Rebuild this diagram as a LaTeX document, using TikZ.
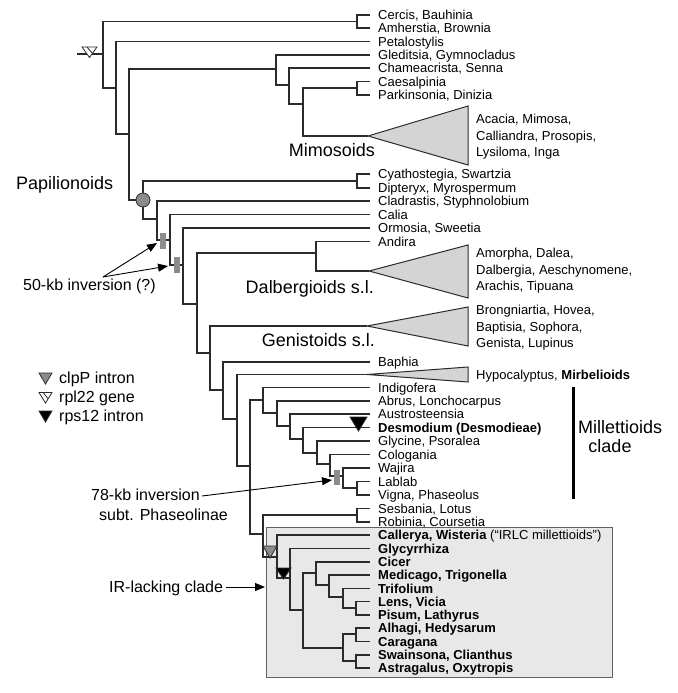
\documentclass[tikz,border=0pt]{standalone}
\usepackage{fontspec}
\setmainfont{Liberation Sans}
\usetikzlibrary{arrows.meta}
\definecolor{ln}{HTML}{2B2B2B}
\definecolor{trif}{HTML}{D4D4D4}
\definecolor{boxf}{HTML}{E8E8E8}
\definecolor{barc}{HTML}{8C8C8C}
\begin{document}
\begin{tikzpicture}[x=1pt,y=-1pt,
  tree/.style={draw=ln, line width=1.1pt},
  leaf/.style={anchor=west, inner xsep=8pt, inner ysep=0pt, text height=9.3pt, text depth=0pt, font=\fontsize{13}{16}\selectfont},
  cladetxt/.style={anchor=west, inner sep=0pt, align=left, font=\fontsize{13}{16.5}\selectfont},
  grp/.style={inner sep=0pt, text height=13pt, text depth=0pt, font=\fontsize{18}{21}\selectfont},
  ann/.style={inner sep=0pt, text height=11.5pt, text depth=0pt, font=\fontsize{16}{20}\selectfont},
  clade/.style={draw=ln, fill=trif, line width=1pt},
  bar/.style={fill=barc, draw=none, minimum width=6pt, minimum height=16pt, inner sep=0pt},
  arr/.style={draw=black, line width=0.9pt, -{Triangle[length=10pt,width=8pt]}},
  mk/.style={draw=ln, line width=0.8pt}
]
\useasboundingbox (0,0) rectangle (677,693);
\fill[white] (0,0) rectangle (677,693);

% IR-lacking clade box
\draw[draw=gray!75!black, fill=boxf, line width=0.8pt] (266,527) rectangle (612,677);

% internal nodes
\coordinate (rs) at (77,54);
\coordinate (r0) at (103,54);
\coordinate (cb) at (357,21.5);
\coordinate (n116) at (116,88);
\coordinate (n129) at (129,134);
\coordinate (n276) at (276,69);
\coordinate (n289) at (289,85);
\coordinate (n303) at (303,104);
\coordinate (cp) at (357,88);
\coordinate (mimA) at (368,136);
\coordinate (pap) at (143,200);
\coordinate (cd) at (357,181);
\coordinate (n157) at (157,219);
\coordinate (n170) at (170,240);
\coordinate (n183) at (183,265);
\coordinate (n197) at (197,304);
\coordinate (dal) at (316,253);
\coordinate (dalA) at (369,271);
\coordinate (n210) at (210,353);
\coordinate (genA) at (367,326);
\coordinate (n223) at (223,390);
\coordinate (n237) at (237,419);
\coordinate (mirA) at (367,374.5);
\coordinate (n250) at (250,466);
\coordinate (m263) at (263,400);
\coordinate (m277) at (277,413);
\coordinate (m290) at (290,426);
\coordinate (m303) at (303,439);
\coordinate (m317) at (317,453);
\coordinate (m330) at (330,464);
\coordinate (m343) at (343,476);
\coordinate (m357) at (357,488);
\coordinate (s263) at (263,534);
\coordinate (sr) at (357,515);
\coordinate (i277) at (277,557);
\coordinate (i290) at (290,578);
\coordinate (i303) at (303,610);
\coordinate (i316) at (316,573);
\coordinate (i329) at (329,585);
\coordinate (i343) at (343,597);
\coordinate (i356) at (356,608);
\coordinate (i343b) at (343,648);
\coordinate (ah) at (356,634);
\coordinate (sa) at (356,661);

% leaves
\node[leaf] (cercis) at (370,15) {Cercis, Bauhinia};
\node[leaf] (amher) at (370,28) {Amherstia, Brownia};
\node[leaf] (petalo) at (370,41.5) {Petalostylis};
\node[leaf] (gled) at (370,55) {Gleditsia, Gymnocladus};
\node[leaf] (chame) at (370,68) {Chameacrista, Senna};
\node[leaf] (caes) at (370,81.5) {Caesalpinia};
\node[leaf] (park) at (370,95) {Parkinsonia, Dinizia};
\node[leaf] (cyath) at (370,174) {Cyathostegia, Swartzia};
\node[leaf] (dipt) at (370,188) {Dipteryx, Myrospermum};
\node[leaf] (clad) at (370,201) {Cladrastis, Styphnolobium};
\node[leaf] (calia) at (370,214.5) {Calia};
\node[leaf] (ormo) at (370,228) {Ormosia, Sweetia};
\node[leaf] (andira) at (370,241.5) {Andira};
\node[leaf] (baphia) at (370,362) {Baphia};
\node[leaf] (indigo) at (370,387.5) {Indigofera};
\node[leaf] (abrus) at (370,401) {Abrus, Lonchocarpus};
\node[leaf] (austro) at (370,414) {Austrosteensia};
\node[leaf] (desmo) at (370,427.5) {\textbf{Desmodium (Desmodieae)}};
\node[leaf] (glycine) at (370,441) {Glycine, Psoralea};
\node[leaf] (colog) at (370,454.5) {Cologania};
\node[leaf] (wajira) at (370,468) {Wajira};
\node[leaf] (lablab) at (370,481.5) {Lablab};
\node[leaf] (vigna) at (370,495) {Vigna, Phaseolus};
\node[leaf] (sesb) at (370,508.5) {Sesbania, Lotus};
\node[leaf] (robin) at (370,522) {Robinia, Coursetia};
\node[leaf] (caller) at (370,535) {\textbf{Callerya, Wisteria} (“IRLC millettioids”)};
\node[leaf] (glycyr) at (370,548.5) {\textbf{Glycyrrhiza}};
\node[leaf] (cicer) at (370,562) {\textbf{Cicer}};
\node[leaf] (medic) at (370,575) {\textbf{Medicago, Trigonella}};
\node[leaf] (trif) at (370,588.5) {\textbf{Trifolium}};
\node[leaf] (lens) at (370,601.5) {\textbf{Lens, Vicia}};
\node[leaf] (pisum) at (370,615) {\textbf{Pisum, Lathyrus}};
\node[leaf] (alhagi) at (370,628) {\textbf{Alhagi, Hedysarum}};
\node[leaf] (carag) at (370,641.5) {\textbf{Caragana}};
\node[leaf] (swain) at (370,655) {\textbf{Swainsona, Clianthus}};
\node[leaf] (astra) at (370,668) {\textbf{Astragalus, Oxytropis}};

% branches
\draw[tree] (rs) -- (r0);
\draw[tree] (r0) |- (cb); \draw[tree] (r0) |- (n116);
\draw[tree] (cb) |- (cercis.west); \draw[tree] (cb) |- (amher.west);
\draw[tree] (n116) |- (petalo.west); \draw[tree] (n116) |- (n129);
\draw[tree] (n129) |- (n276); \draw[tree] (n129) |- (pap);
\draw[tree] (n276) |- (gled.west); \draw[tree] (n276) |- (n289);
\draw[tree] (n289) |- (chame.west); \draw[tree] (n289) |- (n303);
\draw[tree] (n303) |- (cp); \draw[tree] (n303) |- (mimA);
\draw[tree] (cp) |- (caes.west); \draw[tree] (cp) |- (park.west);
\draw[tree] (pap) |- (cd); \draw[tree] (pap) |- (n157);
\draw[tree] (cd) |- (cyath.west); \draw[tree] (cd) |- (dipt.west);
\draw[tree] (n157) |- (clad.west); \draw[tree] (n157) |- (n170);
\draw[tree] (n170) |- (calia.west); \draw[tree] (n170) |- (n183);
\draw[tree] (n183) |- (ormo.west); \draw[tree] (n183) |- (n197);
\draw[tree] (n197) |- (dal); \draw[tree] (n197) |- (n210);
\draw[tree] (dal) |- (andira.west); \draw[tree] (dal) |- (dalA);
\draw[tree] (n210) |- (genA); \draw[tree] (n210) |- (n223);
\draw[tree] (n223) |- (baphia.west); \draw[tree] (n223) |- (n237);
\draw[tree] (n237) |- (mirA); \draw[tree] (n237) |- (n250);
\draw[tree] (n250) |- (m263); \draw[tree] (n250) |- (s263);
\draw[tree] (m263) |- (indigo.west); \draw[tree] (m263) |- (m277);
\draw[tree] (m277) |- (abrus.west); \draw[tree] (m277) |- (m290);
\draw[tree] (m290) |- (austro.west); \draw[tree] (m290) |- (m303);
\draw[tree] (m303) |- (desmo.west); \draw[tree] (m303) |- (m317);
\draw[tree] (m317) |- (glycine.west); \draw[tree] (m317) |- (m330);
\draw[tree] (m330) |- (colog.west); \draw[tree] (m330) |- (m343);
\draw[tree] (m343) |- (wajira.west); \draw[tree] (m343) |- (m357);
\draw[tree] (m357) |- (lablab.west); \draw[tree] (m357) |- (vigna.west);
\draw[tree] (s263) |- (sr); \draw[tree] (s263) |- (i277);
\draw[tree] (sr) |- (sesb.west); \draw[tree] (sr) |- (robin.west);
\draw[tree] (i277) |- (caller.west); \draw[tree] (i277) |- (i290);
\draw[tree] (i290) |- (glycyr.west); \draw[tree] (i290) |- (i303);
\draw[tree] (i303) |- (i316); \draw[tree] (i303) |- (i343b);
\draw[tree] (i316) |- (cicer.west); \draw[tree] (i316) |- (i329);
\draw[tree] (i329) |- (medic.west); \draw[tree] (i329) |- (i343);
\draw[tree] (i343) |- (trif.west); \draw[tree] (i343) |- (i356);
\draw[tree] (i356) |- (lens.west); \draw[tree] (i356) |- (pisum.west);
\draw[tree] (i343b) |- (ah); \draw[tree] (i343b) |- (sa);
\draw[tree] (ah) |- (alhagi.west); \draw[tree] (ah) |- (carag.west);
\draw[tree] (sa) |- (swain.west); \draw[tree] (sa) |- (astra.west);

% collapsed clades
\draw[clade] (mimA) -- (468,106) -- (468,165) -- cycle;
\draw[clade] (dalA) -- (468,245) -- (468,298) -- cycle;
\draw[clade] (genA) -- (468,307) -- (468,346) -- cycle;
\draw[clade] (mirA) -- (468,367) -- (468,382) -- cycle;
\node[cladetxt] (mimt) at (476,137) {Acacia, Mimosa,\\Calliandra, Prosopis,\\Lysiloma, Inga};
\node[cladetxt] (dalt) at (476,271) {Amorpha, Dalea,\\Dalbergia, Aeschynomene,\\Arachis, Tipuana};
\node[cladetxt] (gent) at (476,328) {Brongniartia, Hovea,\\Baptisia, Sophora,\\Genista, Lupinus};
\node[leaf, inner xsep=0pt] (mirt) at (476,375) {Hypocalyptus, \textbf{Mirbelioids}};

% group labels
\node[grp, anchor=west] (lpap) at (16,183) {Papilionoids};
\node[grp, anchor=east] (lmim) at (375,150) {Mimosoids};
\node[grp, anchor=east] (ldal) at (374,287) {Dalbergioids s.l.};
\node[grp, anchor=east] (lgen) at (375,340) {Genistoids s.l.};
\node[grp, anchor=west] (lmil) at (578,427) {Millettioids};
\node[grp] (lcla) at (610,446) {clade};
\draw[line width=3pt] (573,387) -- (573,499);

% markers
\node[circle, draw=ln, fill=barc, minimum size=14pt, inner sep=0pt, line width=0.8pt] (papc) at (pap) {};
\node[bar] (bar1) at (163,241) {};
\node[bar] (bar2) at (176.5,265) {};
\node[bar, minimum height=15pt] (bar3) at (336.5,477.5) {};
\filldraw[mk, fill=white] (82,47) -- (97,47) -- (89.5,57.5) -- cycle;
\draw[mk] (87,47) -- (92.5,53.5);
\filldraw[mk, fill=barc] (263,546) -- (277,546) -- (270,558) -- cycle;
\filldraw[mk, fill=black] (276,568) -- (291,568) -- (283.5,579) -- cycle;
\filldraw[mk, fill=black] (350,417) -- (367,417) -- (358.5,431) -- cycle;

% annotations
\node[ann, anchor=west] (t50) at (23,285) {50-kb inversion (?)};
\node[ann, anchor=west] (t78) at (91,495) {78-kb inversion};
\node[ann, anchor=west] (t78b) at (99,515) {subt. Phaseolinae};
\node[ann, anchor=west] (tir) at (109,587) {IR-lacking clade};
\coordinate (a50) at (103,277);
\coordinate (tip1) at (157,243);
\coordinate (tip2) at (168,266);
\coordinate (a78) at (202,496);
\coordinate (tip3) at (332,480);
\coordinate (air) at (226,587);
\coordinate (tip4) at (265,587);
\draw[arr] (a50) -- (tip1);
\draw[arr] (a50) -- (tip2);
\draw[arr] (a78) -- (tip3);
\draw[arr] (air) -- (tip4);

% legend
\filldraw[mk, fill=barc] (39,373) -- (52,373) -- (45.5,384) -- cycle;
\filldraw[mk, fill=white] (39,392.5) -- (52,392.5) -- (45.5,403) -- cycle;
\draw[mk] (43,392.5) -- (48,398.5);
\filldraw[mk, fill=black] (39,411) -- (52,411) -- (45.5,422) -- cycle;
\node[ann, anchor=west] (lg1) at (59,378) {clpP intron};
\node[ann, anchor=west] (lg2) at (59,397) {rpl22 gene};
\node[ann, anchor=west] (lg3) at (59,416) {rps12 intron};
\end{tikzpicture}
\end{document}
